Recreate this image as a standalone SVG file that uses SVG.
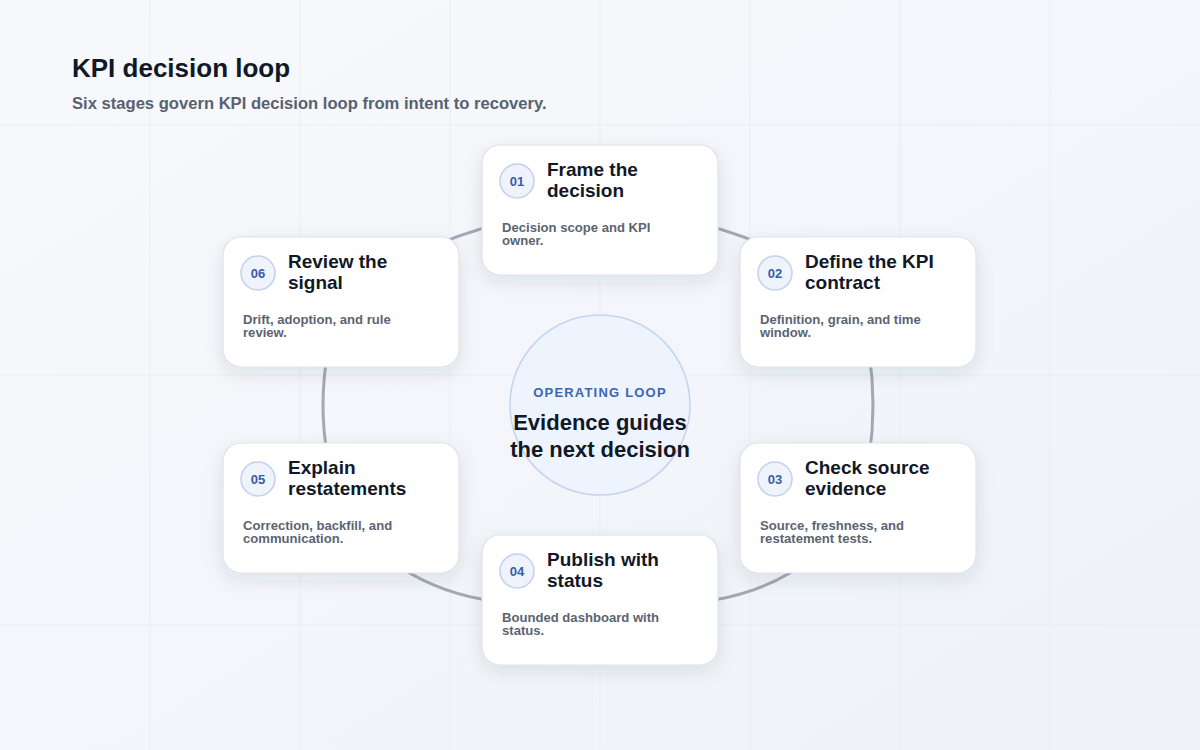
<svg xmlns="http://www.w3.org/2000/svg" width="1200" height="750" viewBox="0 0 1200 750">
  <defs>
    <linearGradient id="bg" x1="0" y1="0" x2="1" y2="1">
      <stop offset="0" stop-color="#f8f9fc"/>
      <stop offset="1" stop-color="#eef2f8"/>
    </linearGradient>
    <filter id="shadow" x="-20%" y="-20%" width="140%" height="150%">
      <feDropShadow dx="0" dy="6" stdDeviation="9" flood-color="#1e293b" flood-opacity="0.10"/>
    </filter>
    <style>
      .grid { stroke: #e9edf3; stroke-width: 1; }
      .card { fill: #ffffff; stroke: #dde2ea; stroke-width: 1.2; filter: url(#shadow); }
      .badge { fill: #eef3fc; stroke: #c3d1ec; stroke-width: 1.5; }
      .num { font-family: "Liberation Sans", Arial, sans-serif; font-size: 13px; font-weight: bold; fill: #3a5ba8; text-anchor: middle; }
      .ttl { font-family: "Liberation Sans", Arial, sans-serif; font-size: 19px; font-weight: bold; fill: #111827; }
      .desc { font-family: "Liberation Sans", Arial, sans-serif; font-size: 13.1px; font-weight: bold; fill: #5b6472; }
      .conn { fill: none; stroke: #a3a8b3; stroke-width: 3; stroke-linecap: round; }
    </style>
  </defs>
  <rect width="1200" height="750" fill="url(#bg)"/>
  <g id="grid">
    <line class="grid" x1="150" y1="0" x2="150" y2="750"/>
    <line class="grid" x1="300" y1="0" x2="300" y2="750"/>
    <line class="grid" x1="450" y1="0" x2="450" y2="750"/>
    <line class="grid" x1="600" y1="0" x2="600" y2="750"/>
    <line class="grid" x1="750" y1="0" x2="750" y2="750"/>
    <line class="grid" x1="900" y1="0" x2="900" y2="750"/>
    <line class="grid" x1="1050" y1="0" x2="1050" y2="750"/>
    <line class="grid" x1="0" y1="125" x2="1200" y2="125"/>
    <line class="grid" x1="0" y1="375" x2="1200" y2="375"/>
    <line class="grid" x1="0" y1="625" x2="1200" y2="625"/>
  </g>
  <g id="header">
    <text x="72" y="77" font-family="Liberation Sans, Arial, sans-serif" font-size="26" font-weight="bold" fill="#111827">KPI decision loop</text>
    <text x="72" y="109" font-family="Liberation Sans, Arial, sans-serif" font-size="16.6" font-weight="bold" fill="#586170">Six stages govern KPI decision loop from intent to recovery.</text>
  </g>
  <g id="connectors">
    <path class="conn" d="M341 302 Q450 215 600 210"/>
    <path class="conn" d="M600 210 Q750 215 858 302"/>
    <path class="conn" d="M858 302 Q888 405 858 508"/>
    <path class="conn" d="M858 508 Q780 625 600 600"/>
    <path class="conn" d="M600 600 Q420 625 341 508"/>
    <path class="conn" d="M341 508 Q305 405 341 302"/>
  </g>
  <g id="center">
    <circle cx="600" cy="405" r="90" fill="#eef4fd" stroke="#c4d4ee" stroke-width="1.5"/>
    <text x="600" y="397" text-anchor="middle" font-family="Liberation Sans, Arial, sans-serif" font-size="13" font-weight="bold" letter-spacing="1.2" fill="#3f63b5">OPERATING LOOP</text>
    <text x="600" y="430" text-anchor="middle" font-family="Liberation Sans, Arial, sans-serif" font-size="22" font-weight="bold" fill="#111827">Evidence guides</text>
    <text x="600" y="457" text-anchor="middle" font-family="Liberation Sans, Arial, sans-serif" font-size="22" font-weight="bold" fill="#111827">the next decision</text>
  </g>
  <g id="node-01">
    <rect class="card" x="482" y="145" width="236" height="130" rx="18"/>
    <circle class="badge" cx="517" cy="181" r="17"/>
    <text class="num" x="517" y="186">01</text>
    <text class="ttl" x="547" y="176">Frame the</text>
    <text class="ttl" x="547" y="197">decision</text>
    <text class="desc" x="502" y="232">Decision scope and KPI</text>
    <text class="desc" x="502" y="245">owner.</text>
  </g>
  <g id="node-02">
    <rect class="card" x="740" y="237" width="236" height="130" rx="18"/>
    <circle class="badge" cx="775" cy="273" r="17"/>
    <text class="num" x="775" y="278">02</text>
    <text class="ttl" x="805" y="268">Define the KPI</text>
    <text class="ttl" x="805" y="289">contract</text>
    <text class="desc" x="760" y="324">Definition, grain, and time</text>
    <text class="desc" x="760" y="337">window.</text>
  </g>
  <g id="node-03">
    <rect class="card" x="740" y="443" width="236" height="130" rx="18"/>
    <circle class="badge" cx="775" cy="479" r="17"/>
    <text class="num" x="775" y="484">03</text>
    <text class="ttl" x="805" y="474">Check source</text>
    <text class="ttl" x="805" y="495">evidence</text>
    <text class="desc" x="760" y="530">Source, freshness, and</text>
    <text class="desc" x="760" y="543">restatement tests.</text>
  </g>
  <g id="node-04">
    <rect class="card" x="482" y="535" width="236" height="130" rx="18"/>
    <circle class="badge" cx="517" cy="571" r="17"/>
    <text class="num" x="517" y="576">04</text>
    <text class="ttl" x="547" y="566">Publish with</text>
    <text class="ttl" x="547" y="587">status</text>
    <text class="desc" x="502" y="622">Bounded dashboard with</text>
    <text class="desc" x="502" y="635">status.</text>
  </g>
  <g id="node-05">
    <rect class="card" x="223" y="443" width="236" height="130" rx="18"/>
    <circle class="badge" cx="258" cy="479" r="17"/>
    <text class="num" x="258" y="484">05</text>
    <text class="ttl" x="288" y="474">Explain</text>
    <text class="ttl" x="288" y="495">restatements</text>
    <text class="desc" x="243" y="530">Correction, backfill, and</text>
    <text class="desc" x="243" y="543">communication.</text>
  </g>
  <g id="node-06">
    <rect class="card" x="223" y="237" width="236" height="130" rx="18"/>
    <circle class="badge" cx="258" cy="273" r="17"/>
    <text class="num" x="258" y="278">06</text>
    <text class="ttl" x="288" y="268">Review the</text>
    <text class="ttl" x="288" y="289">signal</text>
    <text class="desc" x="243" y="324">Drift, adoption, and rule</text>
    <text class="desc" x="243" y="337">review.</text>
  </g>
</svg>
